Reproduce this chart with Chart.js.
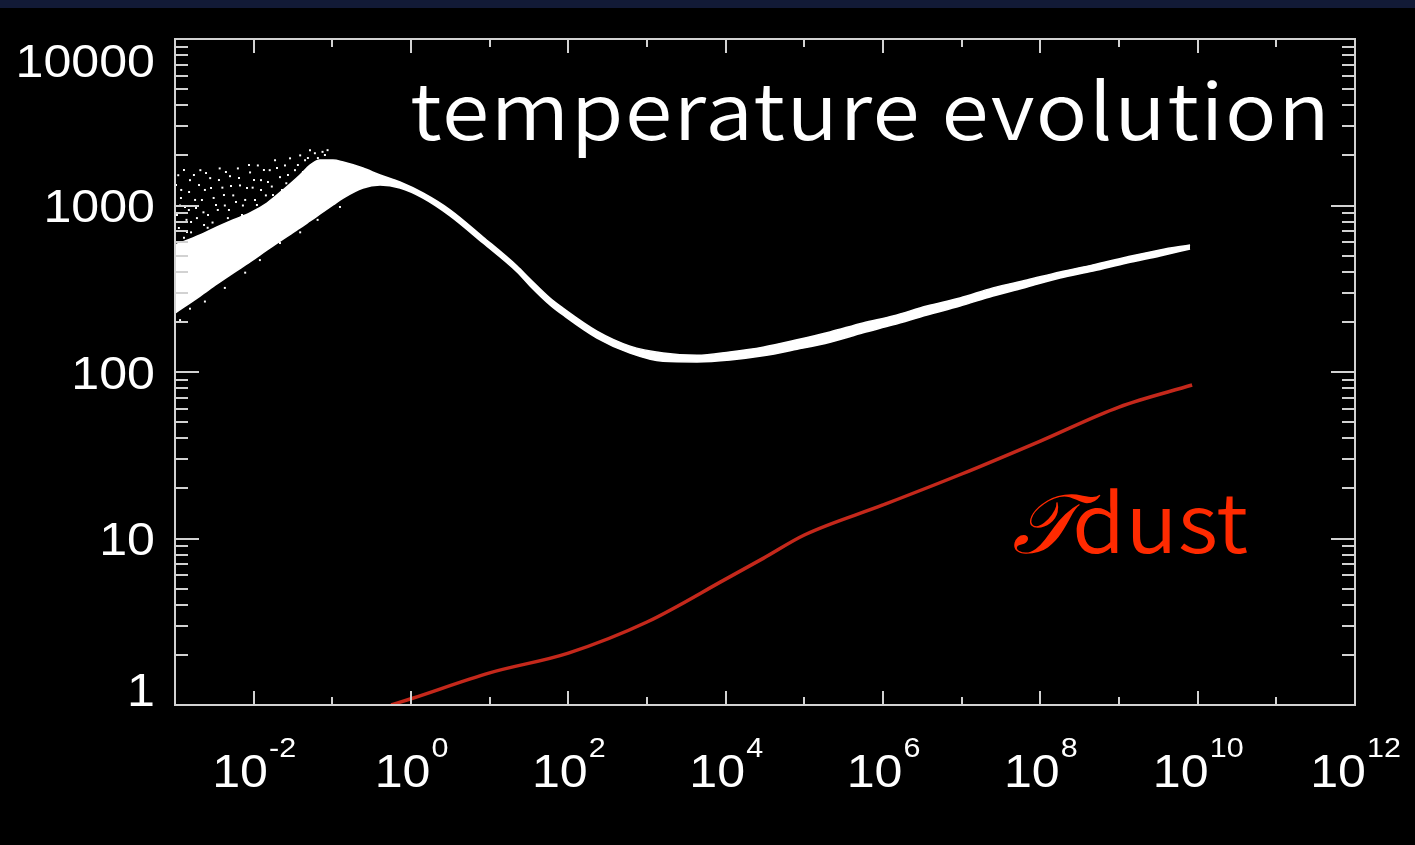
<!doctype html>
<html lang="en">
<head>
  <meta charset="UTF-8">
  <title>temperature evolution</title>
  <script src="https://cdn.jsdelivr.net/npm/chart.js"></script>
  <style>
    html, body {
      margin: 0;
      height: 100%;
    }

    body {
      background: linear-gradient(#121a36 0, #121a36 8px, #000 8px);
    }

    #chart_01 {
      display: block;
    }
  </style>
</head>
<body>
  <canvas id="chart_01" width="1415" height="845"></canvas>
  <script type="application/javascript">
    // gas temperature band: upper / lower edge of the particle cloud
    const x_band = [0.001, 0.00208, 0.00342, 0.00546, 0.00897, 0.0148, 0.0236, 0.0388, 0.052, 0.0697,
      0.102, 0.137, 0.245, 0.404, 0.724, 1.42, 3.13, 8.23, 22.3, 32.6,
      58.4, 85.5, 231, 608, 1600, 4320, 11350, 29800, 80700, 2.12e5,
      5.57e5, 1.34e6, 3.62e6, 9.52e6, 2.5e7, 6.77e7, 1.78e8, 4.67e8, 1.26e9, 3.32e9,
      8.0e9]
    const t_upper = [579, 665, 743, 819, 902, 1035, 1239, 1525, 1750, 1875,
      1875, 1823, 1679, 1525, 1384, 1189, 942, 647, 433, 362,
      278, 242, 176, 143, 130, 126, 132, 141, 156, 174,
      197, 217, 249, 278, 320, 357, 399, 440, 491, 541,
      579]
    const t_lower = [226, 286, 338, 393, 458, 541, 629, 733, 807, 889,
      1007, 1109, 1274, 1327, 1274, 1109, 867, 595, 399, 329,
      253, 220, 160, 130, 116, 115, 118, 125, 137, 151,
      172, 192, 220, 249, 286, 324, 367, 404, 452, 498,
      548]

    // stray hot particles around the low-density end of the band
    const x_dots = [0.0011, 0.0012, 0.00116, 0.0014, 0.00155, 0.0018, 0.0016, 0.0021, 0.0024, 0.0023,
      0.0028, 0.0031, 0.003, 0.0037, 0.004, 0.0043, 0.005, 0.0055, 0.0063, 0.0067,
      0.0078, 0.009, 0.0097, 0.0113, 0.0124, 0.0143, 0.016, 0.0187, 0.0216, 0.025,
      0.029, 0.0335, 0.039, 0.045, 0.052, 0.06, 0.075, 0.087, 0.0013, 0.0015,
      0.0019, 0.0026, 0.0035, 0.0047, 0.0073, 0.0104, 0.017, 0.026,
      0.00103, 0.00106, 0.00112, 0.00119, 0.0013, 0.00134, 0.00142, 0.00151, 0.0016, 0.00174,
      0.00185, 0.00196, 0.00202, 0.0022, 0.00234, 0.00248, 0.00263, 0.00287, 0.00304, 0.00332,
      0.00362, 0.00384, 0.00419, 0.00444, 0.00485, 0.00515, 0.00596, 0.00651, 0.00711, 0.00823,
      0.00872, 0.0101, 0.011, 0.0124, 0.0135, 0.0152, 0.0176, 0.0198, 0.0229, 0.0273,
      0.0316, 0.0365, 0.0423, 0.0489, 0.0566, 0.0655, 0.0805,
      0.00116, 0.00155, 0.0024, 0.0043, 0.0078, 0.012, 0.0216, 0.039, 0.065, 0.125]
    const t_dots = [1520, 1240, 1000, 820, 1420, 1080, 690, 1630, 1240, 910,
      1460, 1110, 790, 1670, 1280, 1000, 1500, 1150, 1670, 1320,
      1080, 1580, 1280, 1740, 1420, 1150, 1630, 1870, 1480, 1740,
      1920, 1630, 2000, 1870, 2150, 2060, 2100, 2150, 640, 940,
      840, 735, 940, 840, 1000, 1080, 1300, 1360,
      1327, 877, 733, 1109, 1634, 979, 693, 1205, 796, 1525,
      966, 638, 1327, 1079, 764, 1567, 877, 1274, 665, 1007,
      1422, 753, 1156, 1589, 940, 1309, 1050, 1462, 877, 1274,
      1750, 1422, 1007, 1239, 1634, 1384, 1156, 1679, 1239, 1525,
      1365, 1750, 1589, 1928, 1750, 1928, 2010,
      205, 240, 265, 320, 395, 470, 595, 690, 820, 980]

    // dust temperature
    const x_dust = [0.56, 1, 10, 100, 1000, 1e4, 3e4, 1e5, 1e6, 1e7, 1e8, 1e9, 8.5e9]
    const t_dust = [1.0, 1.09, 1.56, 2.05, 3.15, 5.7, 7.6, 10.5, 15.9, 24.4, 38.5, 61.6, 83.5]

    // tick labels
    const x_label_exps = ['-2', '0', '2', '4', '6', '8', '10', '12']
    const y_labels = ['1', '10', '100', '1000', '10000']

    const axis_color = '#d2d2d2'
    const dust_line = '#c4281b'
    const dust_text = '#ff2a00'
    const note_font = '"Noto Sans CJK JP"'

    const pts = (xs, ys) => xs.map((x, i) => ({x, y: ys[i]}))

    // frame with inward ticks on all four sides, IDL style
    const frame_plugin = {
      id: 'frame',
      afterDatasetsDraw(chart) {
        const {ctx, chartArea: {left, right, top, bottom}, scales: {x, y}} = chart
        ctx.save()
        ctx.strokeStyle = axis_color
        ctx.lineWidth = 2
        ctx.strokeRect(left, top, right - left, bottom - top)
        ctx.beginPath()
        for (let e = -3; e <= 12; e++) {
          const px = Math.round(x.getPixelForValue(10 ** e))
          const len = Math.abs(e) % 2 === 0 ? 14 : 8
          ctx.moveTo(px, bottom)
          ctx.lineTo(px, bottom - len)
          ctx.moveTo(px, top)
          ctx.lineTo(px, top + len)
        }
        for (let d = 0; d < 4; d++) {
          for (let k = 1; k <= 9; k++) {
            const py = Math.round(y.getPixelForValue(k * 10 ** d))
            const len = k === 1 ? 24 : 13
            ctx.moveTo(left, py)
            ctx.lineTo(left + len, py)
            ctx.moveTo(right, py)
            ctx.lineTo(right - len, py)
          }
        }
        ctx.stroke()
        ctx.restore()
      },
      afterDraw(chart) {
        const {ctx, chartArea: {left, top, bottom}, scales: {x, y}} = chart
        ctx.save()
        ctx.fillStyle = '#fff'
        const stretch = 1.09

        // y tick labels, kept inside the frame at both ends
        ctx.font = '46px "Liberation Sans"'
        ctx.textAlign = 'right'
        ctx.textBaseline = 'middle'
        y_labels.forEach(lbl => {
          let cy = y.getPixelForValue(Number(lbl)) + 4
          cy = Math.min(Math.max(cy, top + 25), bottom - 12)
          ctx.save()
          ctx.translate(left - 20, cy)
          ctx.scale(stretch, 1)
          ctx.fillText(lbl, 0, 0)
          ctx.restore()
        })

        // x tick labels as 10 with superscript exponent
        ctx.textAlign = 'left'
        ctx.textBaseline = 'alphabetic'
        x_label_exps.forEach(exp => {
          const cx = x.getPixelForValue(10 ** Number(exp))
          ctx.font = '46px "Liberation Sans"'
          const w_base = ctx.measureText('10').width * stretch
          ctx.font = '28px "Liberation Sans"'
          const w_sup = ctx.measureText(exp).width * stretch
          const x0 = cx - (w_base + w_sup) / 2
          ctx.save()
          ctx.translate(x0, 787)
          ctx.scale(stretch, 1)
          ctx.font = '46px "Liberation Sans"'
          ctx.fillText('10', 0, 0)
          ctx.font = '28px "Liberation Sans"'
          ctx.fillText(exp, w_base / stretch + 1, -30)
          ctx.restore()
        })

        // panel annotations
        ctx.save()
        ctx.translate(410, 140)
        ctx.scale(1.1, 1)
        ctx.letterSpacing = '1.3px'
        ctx.font = `350 78px ${note_font}`
        ctx.fillStyle = '#fff'
        ctx.fillText('temperature evolution', 0, 0)
        ctx.restore()

        ctx.fillStyle = dust_text
        ctx.font = 'italic 84px "DejaVu Serif"'
        ctx.fillText('𝒯', 1012, 553)
        ctx.save()
        ctx.translate(1072, 553)
        ctx.scale(1.06, 1)
        ctx.font = `350 82px ${note_font}`
        ctx.fillText('dust', 0, 0)
        ctx.restore()
        ctx.restore()
      }
    }

    const config = {
      type: 'scatter',
      data: {
        datasets: [{
          label: 'T gas (upper)',
          data: pts(x_band, t_upper),
          showLine: true,
          borderColor: '#fff',
          backgroundColor: '#fff',
          borderWidth: 1.5,
          pointRadius: 0,
          cubicInterpolationMode: 'monotone',
          fill: '+1'
        }, {
          label: 'T gas (lower)',
          data: pts(x_band, t_lower),
          showLine: true,
          borderColor: '#fff',
          borderWidth: 1.5,
          pointRadius: 0,
          cubicInterpolationMode: 'monotone',
          fill: false
        }, {
          label: 'stray particles',
          data: pts(x_dots, t_dots),
          pointStyle: 'rect',
          pointRadius: 1.4,
          borderWidth: 0,
          backgroundColor: '#fff'
        }, {
          label: 'T dust',
          data: pts(x_dust, t_dust),
          showLine: true,
          borderColor: dust_line,
          borderWidth: 3.5,
          pointRadius: 0,
          cubicInterpolationMode: 'monotone'
        }]
      },
      options: {
        responsive: false,
        animation: false,
        events: [],
        layout: {
          padding: {left: 175, top: 39, right: 60, bottom: 140}
        },
        plugins: {
          legend: {display: false},
          tooltip: {enabled: false}
        },
        scales: {
          x: {
            type: 'logarithmic',
            display: false,
            min: 1e-3,
            max: 1e12
          },
          y: {
            type: 'logarithmic',
            display: false,
            min: 1,
            max: 1e4
          }
        }
      },
      plugins: [frame_plugin]
    }

    const myChart = new Chart(document.getElementById('chart_01'), config)
  </script>
</body>
</html>
